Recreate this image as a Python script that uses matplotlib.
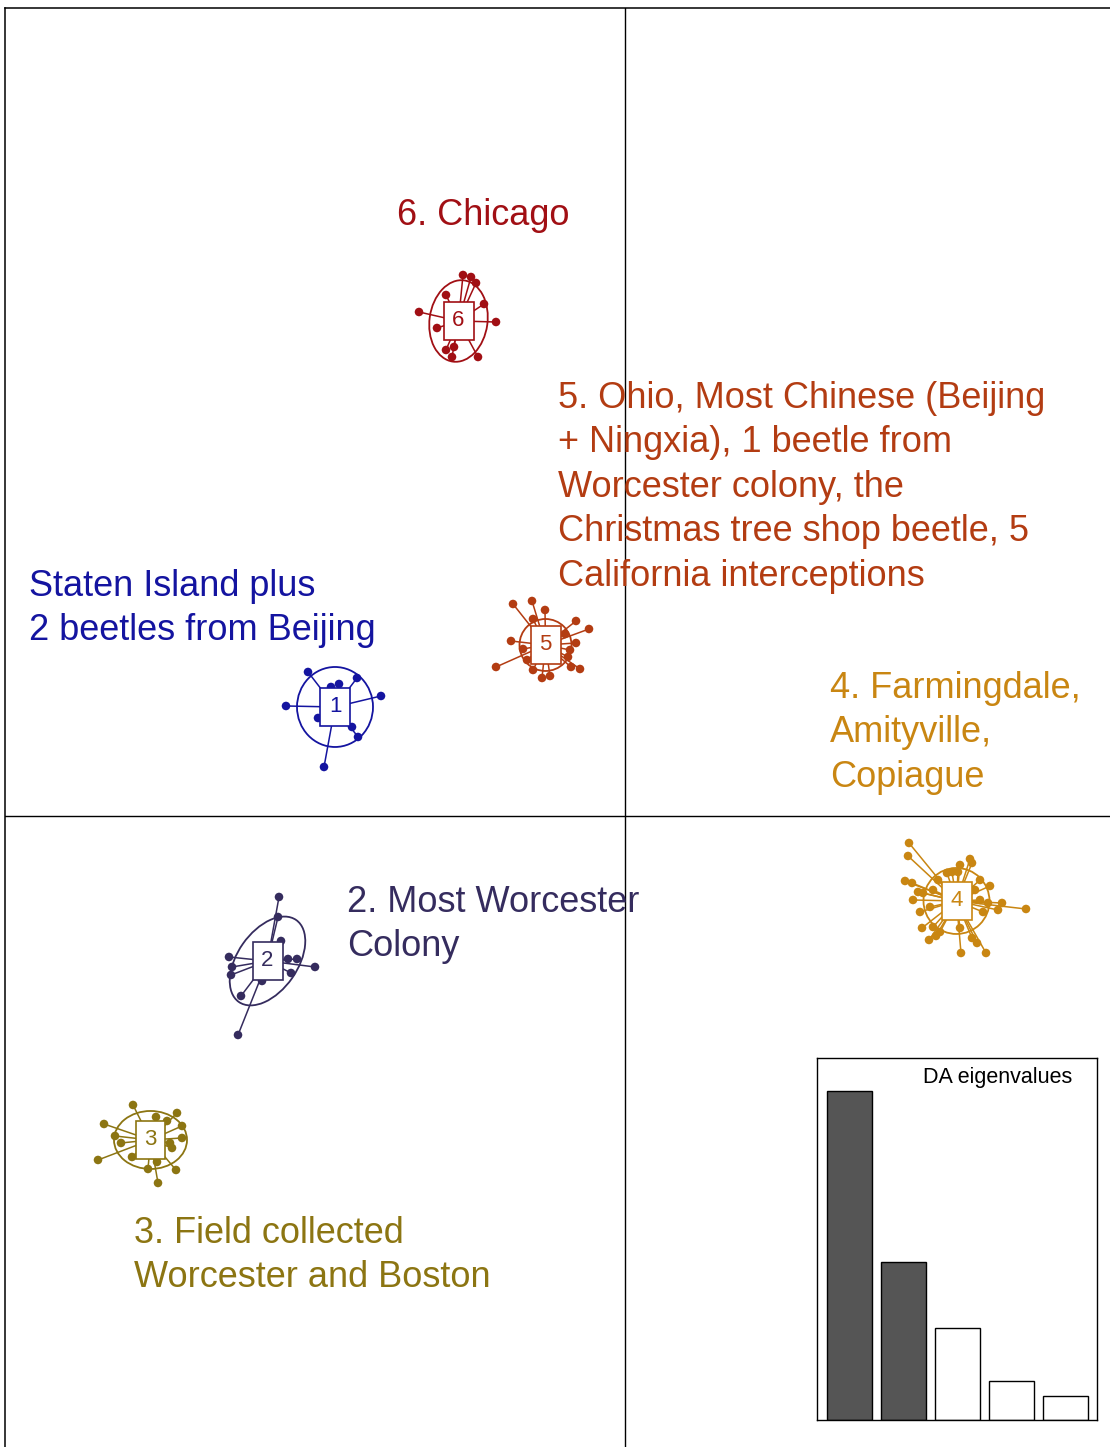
import matplotlib
matplotlib.use("Agg")
import matplotlib.pyplot as plt
from matplotlib.patches import Ellipse, Rectangle

plt.rcParams["font.family"] = ["Liberation Sans", "DejaVu Sans"]

# ---------------------------------------------------------------------------
# DAPC scores (LD1, LD2)
# ---------------------------------------------------------------------------
group_ids = ["1", "2", "3", "4", "5", "6"]
group_colors = ["#1414a0", "#352c5e", "#8c7512", "#c98612", "#b33c12", "#a10f14"]

centers = [(-2.90, 1.09), (-3.575, -1.45), (-4.745, -3.24),
           (3.315, -0.85), (-0.795, 1.71), (-1.665, 4.95)]

# ellipse (width, height, angle)
ellipses = [(0.76, 0.80, 0), (1.00, 0.60, 55), (0.73, 0.58, 0),
            (0.66, 0.66, 0), (0.52, 0.52, 0), (0.58, 0.82, -8)]

pts_1 = [(-3.17, 1.44), (-2.94, 1.29), (-2.86, 1.32), (-2.68, 1.38), (-3.39, 1.10),
         (-2.44, 1.20), (-3.07, 0.98), (-2.73, 0.89), (-2.67, 0.79), (-3.01, 0.49)]
pts_2 = [(-3.46, -0.81), (-3.47, -1.01), (-3.44, -1.25), (-3.96, -1.41), (-3.93, -1.51),
         (-3.94, -1.59), (-3.37, -1.43), (-3.28, -1.43), (-3.10, -1.51), (-3.34, -1.57),
         (-3.63, -1.65), (-3.84, -1.80), (-3.87, -2.19)]
pts_3 = [(-4.92, -2.89), (-5.21, -3.08), (-5.10, -3.20), (-5.04, -3.27), (-5.27, -3.44),
         (-4.93, -3.41), (-4.69, -3.01), (-4.58, -3.05), (-4.48, -2.97), (-4.43, -3.10),
         (-4.43, -3.22), (-4.55, -3.27), (-4.53, -3.32), (-4.77, -3.53), (-4.68, -3.46),
         (-4.49, -3.54), (-4.67, -3.67)]
pts_4 = [(2.84, -0.27), (2.83, -0.40), (2.80, -0.65), (2.87, -0.67), (2.93, -0.76),
         (2.88, -0.84), (2.95, -0.96), (2.97, -1.12), (3.04, -1.24), (3.11, -1.20),
         (3.15, -1.16), (3.35, -1.12), (3.36, -1.37), (3.52, -1.27), (3.61, -1.37),
         (3.47, -1.22), (3.55, -0.64), (3.65, -0.70), (3.45, -0.43), (3.47, -0.47),
         (3.35, -0.49), (3.33, -0.56), (3.27, -0.56), (3.22, -0.57), (3.77, -0.87),
         (3.73, -0.94), (4.01, -0.93), (3.63, -0.87), (3.58, -0.96), (3.08, -0.74),
         (3.05, -0.91), (2.98, -0.77), (3.13, -0.64), (3.55, -0.84), (3.08, -1.11),
         (3.50, -0.74)]
pts_5 = [(-1.12, 2.12), (-0.93, 2.15), (-0.80, 2.06), (-0.92, 1.97), (-0.49, 1.95),
         (-0.36, 1.87), (-1.14, 1.75), (-0.49, 1.73), (-0.55, 1.66), (-1.02, 1.67),
         (-1.29, 1.49), (-0.54, 1.49), (-0.45, 1.47), (-0.83, 1.38), (-0.75, 1.40),
         (-0.98, 1.56), (-0.60, 1.82), (-0.57, 1.59), (-0.92, 1.46)]
pts_6 = [(-2.06, 5.04), (-1.62, 5.41), (-1.54, 5.39), (-1.49, 5.33), (-1.79, 5.21),
         (-1.41, 5.12), (-1.29, 4.94), (-1.88, 4.88), (-1.79, 4.66), (-1.71, 4.69),
         (-1.73, 4.59), (-1.47, 4.59)]
group_points = [pts_1, pts_2, pts_3, pts_4, pts_5, pts_6]

# group annotations: (text, x, y of top)
labels = [
    ("Staten Island plus\n2 beetles from Beijing", -5.96, 2.47),
    ("2. Most Worcester\nColony", -2.78, -0.69),
    ("3. Field collected\nWorcester and Boston", -4.91, -4.00),
    ("4. Farmingdale,\nAmityville,\nCopiague", 2.05, 1.45),
    ("5. Ohio, Most Chinese (Beijing\n+ Ningxia), 1 beetle from\nWorcester colony, the\n"
     "Christmas tree shop beetle, 5\nCalifornia interceptions", -0.67, 4.35),
    ("6. Chicago", -2.28, 6.18),
]

eigenvalues = [100, 48, 28, 12, 7.3]
n_retained = 2

# ---------------------------------------------------------------------------
# Plot
# ---------------------------------------------------------------------------
fig = plt.figure(figsize=(11.1, 14.47), dpi=100)
ax = fig.add_axes([5 / 1110, -0.01, 1.0, 1 - 8 / 1447 + 0.01])
ax.set_xlim(-6.20, 4.90)
ax.set_ylim(-6.455, 8.08)
ax.set_xticks([])
ax.set_yticks([])
ax.spines[["right", "bottom"]].set_visible(False)
for s in ("left", "top"):
    ax.spines[s].set_linewidth(1.1)
ax.axhline(0, color="black", lw=1.0, zorder=1)
ax.axvline(0, color="black", lw=1.0, zorder=1)

for gid, col, (cx, cy), (w, h, ang), pts in zip(group_ids, group_colors, centers,
                                                ellipses, group_points):
    for px, py in pts:
        ax.plot([cx, px], [cy, py], color=col, lw=1.1, zorder=2)
    ax.scatter([p[0] for p in pts], [p[1] for p in pts], s=38, color=col,
               edgecolors="none", zorder=3)
    ax.add_patch(Ellipse((cx, cy), w, h, angle=ang, fill=False, edgecolor=col,
                         lw=1.3, zorder=3))
    ax.add_patch(Rectangle((cx - 0.15, cy - 0.19), 0.30, 0.38, facecolor="white",
                           edgecolor=col, lw=1.2, zorder=4))
    ax.text(cx, cy, gid, color=col, fontsize=16, ha="center", va="center", zorder=5)

for (txt, tx, ty), col in zip(labels, group_colors):
    ax.text(tx, ty, txt, color=col, fontsize=26, ha="left", va="top",
            linespacing=1.35, zorder=6)

# eigenvalue inset
ax2 = fig.add_axes([817 / 1110, 1 - 1420 / 1447, 280 / 1110, 362 / 1447])
bar_cols = ["#555555" if i < n_retained else "white" for i in range(len(eigenvalues))]
ax2.bar(range(1, len(eigenvalues) + 1), eigenvalues, width=0.83, color=bar_cols,
        edgecolor="black", lw=1.0)
ax2.set_xlim(0.40, 5.58)
ax2.set_ylim(0, 110)
ax2.set_xticks([])
ax2.set_yticks([])
for s in ax2.spines.values():
    s.set_linewidth(1.0)
ax2.text(0.912, 0.945, "DA eigenvalues", transform=ax2.transAxes, ha="right",
         va="center", fontsize=15.5)

fig.savefig("out.png", dpi=100)
